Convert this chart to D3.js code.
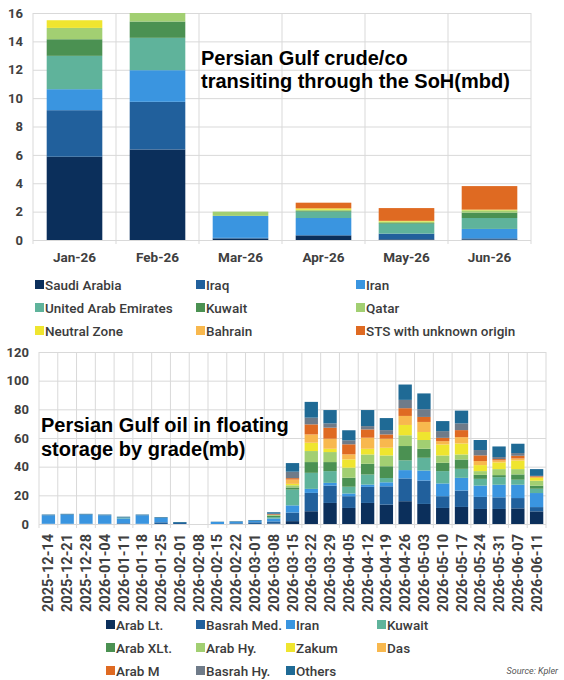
<!DOCTYPE html>
<html>
<head>
<meta charset="utf-8">
<script src="https://cdn.jsdelivr.net/npm/d3@7"></script>
<style>
  body { margin: 0; background: #fff; }
  text { font-family: Roboto, "Liberation Sans", sans-serif; }
</style>
</head>
<body>
<div id="chart"></div>
<script>
// ---- top chart: crude/co transiting the SoH (mbd) ----
const months = ["Jan-26", "Feb-26", "Mar-26", "Apr-26", "May-26", "Jun-26"];
const origins = ["Saudi Arabia", "Iraq", "Iran", "United Arab Emirates", "Kuwait", "Qatar", "Neutral Zone", "Bahrain", "STS with unknown origin"];
const saudi   = [5.87, 6.38, 0.10, 0.30, 0.05, 0.05];
const iraq    = [3.28, 3.36, 0.05, 0.05, 0.40, 0.07];
const iranTop = [1.48, 2.23, 1.55, 1.20, 0.00, 0.66];
const uae     = [2.35, 2.28, 0.00, 0.45, 0.70, 0.77];
const kuwaitTop = [1.17, 1.15, 0.00, 0.05, 0.05, 0.38];
const qatar   = [0.80, 0.60, 0.30, 0.08, 0.10, 0.16];
const neutral = [0.54, 0.00, 0.00, 0.10, 0.05, 0.05];
const bahrain = [0, 0, 0, 0, 0, 0];
const sts     = [0, 0, 0, 0.40, 0.90, 1.66];
const topTicks = [0, 2, 4, 6, 8, 10, 12, 14, 16];

// ---- bottom chart: floating storage by grade (mb) ----
const weeks = ["2025-12-14", "2025-12-21", "2025-12-28", "2026-01-04", "2026-01-11", "2026-01-18", "2026-01-25",
  "2026-02-01", "2026-02-08", "2026-02-15", "2026-02-22", "2026-03-01", "2026-03-08", "2026-03-15", "2026-03-22",
  "2026-03-29", "2026-04-05", "2026-04-12", "2026-04-19", "2026-04-26", "2026-05-03", "2026-05-10", "2026-05-17",
  "2026-05-24", "2026-05-31", "2026-06-07", "2026-06-11"];
const grades = ["Arab Lt.", "Basrah Med.", "Iran", "Kuwait", "Arab XLt.", "Arab Hy.", "Zakum", "Das", "Arab M", "Basrah Hy.", "Others"];
const arabLt    = [0, 0, 0, 0, 0, 0, 0, 0, 0, 0, 0, 0, 0.3, 2.0, 8.9, 14.7, 11.2, 14.7, 13.5, 15.9, 14.0, 11.2, 11.9, 10.5, 10.5, 10.9, 8.8];
const basrahMed = [0.2, 0.2, 0.2, 0.2, 0.5, 0.2, 1.2, 0.8, 0, 0, 0.5, 1.2, 1.5, 6.0, 12.8, 12.1, 8.2, 11.2, 12.8, 15.9, 16.3, 8.2, 11.4, 8.4, 8.1, 7.2, 3.0];
const iranGr    = [5.9, 6.4, 6.4, 5.9, 3.4, 5.9, 3.0, 0, 0, 1.4, 1.0, 1.1, 2.0, 5.0, 2.8, 1.9, 1.9, 1.6, 2.8, 5.8, 7.0, 8.9, 8.9, 7.9, 8.8, 9.3, 9.8];
const kuwaitGr  = [0, 0, 0, 0, 0.6, 0, 0, 0, 0, 0, 0, 0, 1.0, 11.0, 11.2, 8.2, 4.7, 7.0, 3.0, 6.8, 8.9, 8.6, 6.3, 4.7, 5.3, 3.5, 3.0];
const arabXLt   = [0, 0, 0, 0, 0, 0, 0, 0, 0, 0, 0, 0, 1.0, 1.5, 7.5, 6.3, 6.3, 7.5, 8.2, 10.0, 6.3, 5.8, 6.5, 2.8, 1.4, 3.7, 2.1];
const arabHy    = [0, 0, 0, 0, 0, 0, 0, 0, 0, 0, 0, 0, 0.5, 1.5, 7.7, 7.0, 7.0, 6.5, 7.5, 7.5, 6.1, 5.1, 3.5, 2.6, 4.2, 3.7, 3.5];
const zakum     = [0, 0, 0, 0, 0, 0, 0, 0, 0, 0, 0, 0, 0, 1.0, 5.8, 2.3, 5.8, 4.0, 5.4, 7.2, 5.6, 7.7, 7.7, 4.2, 4.7, 6.0, 1.9];
const das       = [0, 0, 0, 0, 0, 0, 0, 0, 0, 0, 0, 0, 0, 3.0, 5.8, 7.0, 3.5, 7.7, 6.3, 6.3, 7.0, 2.3, 4.4, 2.8, 1.4, 1.4, 0.7];
const arabM     = [0, 0, 0, 0, 0, 0, 0, 0, 0, 0, 0, 0, 0.5, 1.0, 7.0, 7.7, 7.0, 5.8, 3.0, 5.4, 3.5, 2.3, 4.9, 4.0, 0.9, 1.9, 0.5];
const basrahHy  = [0, 0, 0, 0, 0, 0, 0, 0, 0, 0, 0, 0, 0.4, 4.5, 4.7, 3.0, 2.8, 2.3, 3.0, 5.8, 5.4, 4.7, 4.7, 3.7, 1.4, 1.9, 0.3];
const others    = [0.5, 0.5, 0.5, 0.5, 0.6, 0.5, 0.5, 0.6, 0, 0.2, 0.4, 0.5, 1.0, 6.0, 11.0, 9.3, 7.0, 11.2, 8.4, 10.7, 11.0, 7.0, 8.9, 7.0, 7.4, 6.5, 4.7];
const bottomTicks = [0, 20, 40, 60, 80, 100, 120];

const palette = ["#0b2f5b", "#21609c", "#3a95e0", "#5fb39b", "#4b9152", "#a2cf72", "#efe52f", "#f8b84e", "#df6a22", "#6f7b89", "#1f6a95"];

const width = 564, height = 680;
const svg = d3.select("#chart").append("svg").attr("width", width).attr("height", height);

const gridColor = "#d9d9d9";
const tickFill = "#404040";

function buildRows(keys, cats, cols) {
  return cats.map((c, i) => {
    const row = { cat: c };
    keys.forEach((k, j) => { row[k] = cols[j][i]; });
    return row;
  });
}

function styleTicks(sel, size) {
  sel.attr("fill", tickFill).style("font-size", size).style("font-weight", 700).style("font-family", "Roboto");
}

function drawPanel(opts) {
  const { cats, keys, cols, ticks, yMax, left, right, top, bottom, padIn, padOut, rotate } = opts;
  const x = d3.scaleBand().domain(cats).range([left, right]).paddingInner(padIn).paddingOuter(padOut);
  const y = d3.scaleLinear().domain([0, yMax]).range([bottom, top]);
  const g = svg.append("g");

  // horizontal grid + y labels
  g.append("g").attr("transform", `translate(${left},0)`)
    .call(d3.axisLeft(y).tickValues(ticks).tickSize(-(right - left)).tickPadding(10))
    .call((a) => a.select(".domain").remove())
    .call((a) => a.selectAll("line").attr("stroke", gridColor))
    .call((a) => styleTicks(a.selectAll("text"), "13px"));

  // vertical grid at band edges
  const edges = d3.range(cats.length + 1).map((i) => Math.min(left + i * x.step(), right));
  g.selectAll("line.vgrid").data(edges).join("line").attr("class", "vgrid")
    .attr("x1", (d) => d).attr("x2", (d) => d)
    .attr("y1", top).attr("y2", bottom + 4).attr("stroke", gridColor);

  const rows = buildRows(keys, cats, cols);
  const series = d3.stack().keys(keys)(rows);
  g.selectAll("g.layer").data(series).join("g").attr("class", "layer")
    .attr("fill", (d, i) => palette[i])
    .selectAll("rect").data((d) => d).join("rect")
    .attr("x", (d) => x(d.data.cat)).attr("width", x.bandwidth())
    .attr("y", (d) => y(Math.min(d[1], yMax))).attr("height", (d) => Math.max(0, y(d[0]) - y(Math.min(d[1], yMax))));

  // x labels
  const xl = g.append("g").attr("transform", `translate(0,${bottom})`)
    .call(d3.axisBottom(x).tickSize(0).tickPadding(12));
  xl.select(".domain").remove();
  styleTicks(xl.selectAll("text"), rotate ? "14.5px" : "13.5px");
  if (rotate) {
    xl.selectAll("text").attr("transform", "rotate(-90)").attr("text-anchor", "end")
      .attr("x", -10).attr("y", 0).attr("dy", "0.35em");
  }
  return { x, y };
}

function drawLegend(names, colX, rowY, perRow) {
  const lg = svg.append("g");
  names.forEach((n, i) => {
    const cx = colX[i % perRow], cy = rowY[Math.floor(i / perRow)];
    lg.append("rect").attr("x", cx).attr("y", cy - 5).attr("width", 9).attr("height", 9).attr("fill", palette[i]);
    lg.append("text").attr("x", cx + 10).attr("y", cy).attr("dy", "0.35em")
      .attr("fill", "#3c3c3c").style("font-family", "'Roboto Medium', Roboto, sans-serif")
      .style("font-size", "13.5px").style("font-weight", 500).text(n);
  });
}

function drawTitle(lines, x0, y0, lh) {
  const t = svg.append("text").attr("x", x0).attr("y", y0)
    .style("font-family", "'Liberation Sans', Arial, sans-serif").style("font-size", "20px").style("font-weight", 700).attr("fill", "#000");
  lines.forEach((l, i) => t.append("tspan").attr("x", x0).attr("dy", i ? lh : 0).text(l));
}

// top panel
drawPanel({
  cats: months, keys: origins,
  cols: [saudi, iraq, iranTop, uae, kuwaitTop, qatar, neutral, bahrain, sts],
  ticks: topTicks, yMax: 16, left: 33, right: 531, top: 13, bottom: 240,
  padIn: 0.33, padOut: 0.165, rotate: false
});
drawTitle(["Persian Gulf crude/co", "transiting through the SoH(mbd)"], 201, 65, 23);
drawLegend(origins, [35, 196, 356], [285, 308, 331], 3);

// bottom panel
drawPanel({
  cats: weeks, keys: grades,
  cols: [arabLt, basrahMed, iranGr, kuwaitGr, arabXLt, arabHy, zakum, das, arabM, basrahHy, others],
  ticks: bottomTicks, yMax: 120, left: 39, right: 546, top: 352, bottom: 524,
  padIn: 0.29, padOut: 0.145, rotate: true
});
drawTitle(["Persian Gulf oil in floating", "storage by grade(mb)"], 41, 432, 23.5);
drawLegend(grades, [106, 196, 286, 377], [625, 648, 671], 4);

svg.append("text").attr("x", 558).attr("y", 671).attr("dy", "0.35em").attr("text-anchor", "end")
  .style("font-size", "9px").style("font-style", "italic").attr("fill", "#555").text("Source: Kpler");
</script>
</body>
</html>
